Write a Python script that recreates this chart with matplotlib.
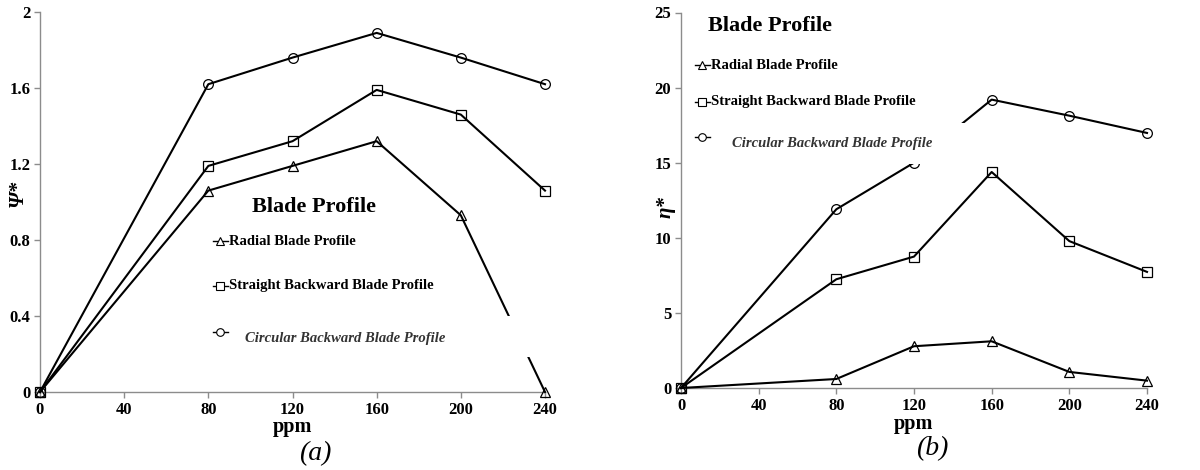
import matplotlib
matplotlib.use("Agg")
import matplotlib.pyplot as plt
from matplotlib.patches import Rectangle

# ---- data ----
ppm = [0, 80, 120, 160, 200, 240]

psi_radial = [0, 1.06, 1.19, 1.32, 0.93, 0.0]
psi_straight = [0, 1.19, 1.32, 1.59, 1.46, 1.06]
psi_circular = [0, 1.62, 1.76, 1.89, 1.76, 1.62]

eta_radial = [0, 0.6, 2.78, 3.11, 1.07, 0.49]
eta_straight = [0, 7.24, 8.75, 14.38, 9.78, 7.73]
eta_circular = [0, 11.9, 15.0, 19.2, 18.13, 16.98]

x_ticks = [0, 40, 80, 120, 160, 200, 240]
psi_ticks = [0, 0.4, 0.8, 1.2, 1.6, 2]
psi_ticklabels = ["0", "0.4", "0.8", "1.2", "1.6", "2"]
eta_ticks = [0, 5, 10, 15, 20, 25]

series_names = ["Radial Blade Profile", "Straight Backward Blade Profile",
                "Circular Backward Blade Profile"]
markers = ["^", "s", "o"]

SERIF = "Liberation Serif"
GRAY = "#8c8c8c"

fig = plt.figure(figsize=(12, 4.7), dpi=100)
ax_a = fig.add_axes([40 / 1200, 1 - 392 / 470, 505 / 1200, 380 / 470])
ax_b = fig.add_axes([681 / 1200, 1 - 388 / 470, 466 / 1200, 375.5 / 470])


def style_axes(ax, yticks, ylabels, ymax):
    ax.set_xlim(0, 240)
    ax.set_ylim(0, ymax)
    ax.set_xticks(x_ticks)
    ax.set_xticklabels([str(t) for t in x_ticks])
    ax.set_yticks(yticks)
    ax.set_yticklabels(ylabels)
    for s in ("top", "right"):
        ax.spines[s].set_visible(False)
    for s in ("left", "bottom"):
        ax.spines[s].set_color(GRAY)
        ax.spines[s].set_linewidth(1.0)
    ax.tick_params(direction="out", length=4, width=1.0, color=GRAY, pad=3)
    for lab in ax.get_xticklabels() + ax.get_yticklabels():
        lab.set_fontfamily(SERIF)
        lab.set_fontweight("bold")
        lab.set_fontsize(12)


def draw_series(ax, ys):
    for y, m in zip(ys, markers):
        ax.plot(ppm, y, color="black", lw=1.5, marker=m, ms=7,
                mfc="none", mec="black", mew=0.9, clip_on=False, zorder=3)


def draw_legend(ax, title_xy, handle_x, text_x, rows_y, circ_marker_y,
                circ_text_xy, box):
    ax.text(*title_xy, "Blade Profile", transform=ax.transAxes,
            family=SERIF, fontweight="bold", fontsize=16,
            ha="center", va="center", zorder=6)
    # white panel behind the circular-profile entry
    ax.add_patch(Rectangle((box[0], box[1]), box[2] - box[0], box[3] - box[1],
                           transform=ax.transAxes, facecolor="white",
                           edgecolor="none", zorder=5, clip_on=False))
    hy = [rows_y[0], rows_y[1], circ_marker_y]
    for y, m in zip(hy, markers):
        ax.plot(handle_x, [y, y], color="black", lw=1.0,
                transform=ax.transAxes, clip_on=False, zorder=6)
        ax.plot([sum(handle_x) / 2], [y], marker=m, ms=5.5, mfc="white",
                mec="black", mew=0.8, transform=ax.transAxes,
                clip_on=False, zorder=7)
    for y, name in zip(rows_y, series_names[:2]):
        ax.text(text_x, y, name, transform=ax.transAxes, family=SERIF,
                fontweight="bold", fontsize=10.5, ha="left", va="center",
                zorder=6)
    ax.text(*circ_text_xy, series_names[2], transform=ax.transAxes,
            family=SERIF, fontweight="bold", style="italic", fontsize=10.5,
            color="#333333", ha="left", va="center", zorder=6)


# ---- panel (a) ----
style_axes(ax_a, psi_ticks, psi_ticklabels, 2)
draw_series(ax_a, [psi_radial, psi_straight, psi_circular])
draw_legend(ax_a, (0.5426, 0.487), [0.342, 0.372], 0.374, [0.397, 0.279],
            0.158, (0.406, 0.142), (0.386, 0.092, 0.986, 0.200))
ax_a.set_xlabel("ppm", family=SERIF, fontweight="bold", fontsize=14.5)
ax_a.xaxis.set_label_coords(0.5, -0.091)
ax_a.xaxis.label.set_va("center")
ax_a.set_ylabel("Ψ*", family=SERIF, fontweight="bold", style="italic",
                fontsize=15)
ax_a.yaxis.set_label_coords(-0.0436, 0.524)
ax_a.yaxis.label.set_va("center")
ax_a.text(0.5446, -0.163, "(a)", transform=ax_a.transAxes, family=SERIF,
          style="italic", fontsize=20, ha="center", va="center")

# ---- panel (b) ----
style_axes(ax_b, eta_ticks, [str(t) for t in eta_ticks], 25)
draw_series(ax_b, [eta_radial, eta_straight, eta_circular])
draw_legend(ax_b, (0.191, 0.964), [0.030, 0.062], 0.064, [0.860, 0.762],
            0.668, (0.109, 0.650), (0.088, 0.596, 0.652, 0.706))
ax_b.set_xlabel("ppm", family=SERIF, fontweight="bold", fontsize=14.5)
ax_b.xaxis.set_label_coords(0.498, -0.096)
ax_b.xaxis.label.set_va("center")
ax_b.set_ylabel("η*", family=SERIF, fontweight="bold", style="italic",
                fontsize=15)
ax_b.yaxis.set_label_coords(-0.034, 0.483)
ax_b.yaxis.label.set_va("center")
ax_b.text(0.538, -0.162, "(b)", transform=ax_b.transAxes, family=SERIF,
          style="italic", fontsize=20, ha="center", va="center")

fig.savefig("out.png", dpi=100, facecolor="white")
